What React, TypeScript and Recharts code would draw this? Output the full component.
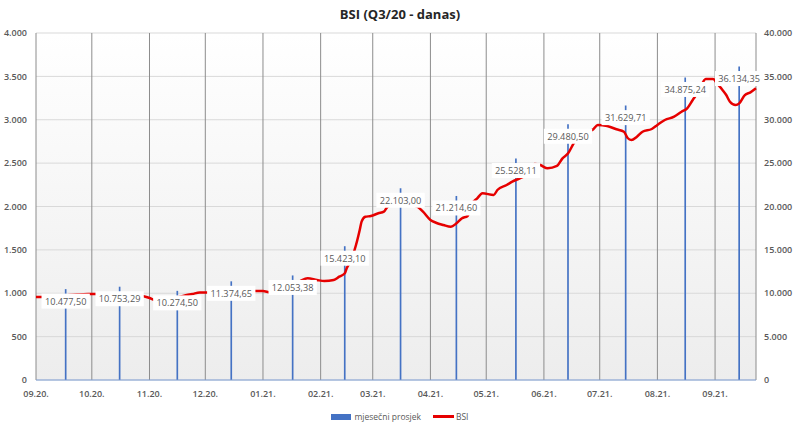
import {
  Bar,
  CartesianGrid,
  ComposedChart,
  LabelList,
  Line,
  XAxis,
  YAxis,
} from "recharts";

// x axis is days since 1.9.2020.
const monthTickDays = [0, 30, 61, 91, 122, 153, 181, 212, 242, 273, 303, 334, 365];
const monthTickLabels = [
  "09.20.", "10.20.", "11.20.", "12.20.", "01.21.", "02.21.", "03.21.",
  "04.21.", "05.21.", "06.21.", "07.21.", "08.21.", "09.21.",
];

// monthly average (right axis)
const avgDays = [16, 45, 76, 105, 138, 166, 196, 226, 258, 286, 317, 349, 378];
const avgValues = [
  10477.5, 10753.29, 10274.5, 11374.65, 12053.38, 15423.1, 22103.0,
  21214.6, 25528.11, 29480.5, 31629.71, 34875.24, 36134.35,
];

// BSI (left axis)
const bsiDays = [
  0, 4, 10, 16, 22, 28, 33, 38, 44, 50, 57, 61, 64, 70, 76, 80, 84, 88, 94,
  100, 106, 112, 118, 122, 126, 132, 138, 142, 146, 151, 155, 160, 163, 166,
  167, 169, 172, 174, 175, 177, 180, 184, 187, 189, 193, 197, 201, 205, 208,
  212, 215, 219, 223, 226, 229, 232, 234, 237, 240, 246, 248, 253, 256, 260,
  264, 268, 271, 275, 280, 283, 286, 289, 292, 296, 299, 302, 307, 312, 316,
  318, 320, 323, 326, 331, 334, 338, 343, 347, 350, 353, 355, 357, 360, 364,
  366, 369, 371, 373, 376, 378, 381, 384, 387,
];
const bsiValues = [
  957, 957, 965, 975, 985, 991, 991, 988, 982, 975, 968, 945, 922, 925, 950,
  975, 991, 1009, 1009, 1012, 1018, 1022, 1026, 1026, 1009, 1045, 1095, 1140,
  1172, 1153, 1141, 1153, 1191, 1230, 1288, 1364, 1556, 1729, 1825, 1882,
  1890, 1922, 1940, 1998, 2025, 2035, 2020, 1998, 1940, 1844, 1813, 1787,
  1767, 1806, 1864, 1890, 2020, 2090, 2152, 2133, 2190, 2248, 2286, 2325,
  2370, 2490, 2478, 2440, 2467, 2555, 2613, 2728, 2820, 2870, 2882, 2940,
  2928, 2890, 2862, 2790, 2766, 2805, 2862, 2893, 2940, 2997, 3035, 3093,
  3132, 3228, 3290, 3370, 3470, 3470, 3420, 3343, 3285, 3208, 3170, 3189,
  3285, 3316, 3362,
];

const leftTicks = [0, 500, 1000, 1500, 2000, 2500, 3000, 3500, 4000];
const rightTicks = [0, 5000, 10000, 15000, 20000, 25000, 30000, 35000, 40000];

const FONT = "'Open Sans', sans-serif";
const GREY = "#595959";

function thousands(s: string): string {
  return s.replace(/\B(?=(\d{3})+(?!\d))/g, ".");
}

function fmtInt(v: number): string {
  return thousands(Math.round(v).toString());
}

function fmtDec(v: number): string {
  const [i, d] = v.toFixed(2).split(".");
  return `${thousands(i)},${d}`;
}

type Row = { day: number; bsi?: number; avg?: number };

const rows: Row[] = (() => {
  const map = new Map<number, Row>();
  bsiDays.forEach((d, i) => map.set(d, { day: d, bsi: bsiValues[i] }));
  avgDays.forEach((d, i) => {
    const r = map.get(d) ?? { day: d };
    r.avg = avgValues[i];
    map.set(d, r);
  });
  return [...map.values()].sort((a, b) => a.day - b.day);
})();

function AvgLabel(props: any) {
  const { x, y, width, value } = props;
  if (value == null || x == null) return null;
  const text = fmtDec(Number(value));
  const cx = Number(x) + Number(width) / 2;
  const cy = Number(y) + 12;
  const w = text.length * 4.7 + 6;
  return (
    <g>
      <rect fill="#ffffff" height={15} width={w} x={cx - w / 2} y={cy - 7.5} />
      <text
        dominantBaseline="central"
        fill={GREY}
        fontFamily={FONT}
        fontSize={9.2}
        textAnchor="middle"
        x={cx}
        y={cy}
      >
        {text}
      </text>
    </g>
  );
}

export default function App() {
  const tickStyle = { fontSize: 9, fill: GREY, fontFamily: FONT, fontWeight: 600 };
  return (
    <div
      style={{
        position: "absolute",
        left: 0,
        top: 0,
        width: 800,
        height: 428,
        background: "#ffffff",
        fontFamily: FONT,
      }}
    >
      <div
        style={{
          position: "absolute",
          top: 5,
          width: 800,
          textAlign: "center",
          fontSize: 13,
          fontWeight: 700,
          color: "#262626",
        }}
      >
        BSI (Q3/20 - danas)
      </div>
      <ComposedChart
        data={rows}
        height={428}
        margin={{ top: 33, right: 0, bottom: 0, left: 0 }}
        width={800}
      >
        <defs>
          <linearGradient id="plotBg" x1="0" x2="0" y1="0" y2="1">
            <stop offset="0%" stopColor="#ffffff" />
            <stop offset="100%" stopColor="#ededed" />
          </linearGradient>
        </defs>
        <CartesianGrid
          fill="url(#plotBg)"
          stroke="#d9d9d9"
          vertical={false}
          yAxisId="left"
        />
        <CartesianGrid horizontal={false} stroke="#8c8c8c" yAxisId="left" />
        <XAxis
          axisLine={{ stroke: "#7f9fd6" }}
          dataKey="day"
          domain={[0, 387]}
          height={48}
          tick={tickStyle}
          tickFormatter={(d: number) => monthTickLabels[monthTickDays.indexOf(d)] ?? ""}
          tickLine={false}
          tickMargin={11}
          tickSize={0}
          ticks={monthTickDays}
          type="number"
        />
        <YAxis
          axisLine={false}
          domain={[0, 4000]}
          tick={tickStyle}
          tickFormatter={fmtInt}
          tickLine={false}
          tickMargin={9}
          tickSize={0}
          ticks={leftTicks}
          width={36}
          yAxisId="left"
        />
        <YAxis
          axisLine={false}
          domain={[0, 40000]}
          orientation="right"
          tick={tickStyle}
          tickFormatter={fmtInt}
          tickLine={false}
          tickMargin={8}
          tickSize={0}
          ticks={rightTicks}
          width={44}
          yAxisId="right"
        />
        <Line
          connectNulls
          dataKey="bsi"
          dot={false}
          isAnimationActive={false}
          stroke="#e60000"
          strokeWidth={2.5}
          type="monotone"
          yAxisId="left"
        />
        <Bar
          barSize={2}
          dataKey="avg"
          fill="#4472c4"
          isAnimationActive={false}
          yAxisId="right"
        >
          <LabelList content={AvgLabel} dataKey="avg" />
        </Bar>
      </ComposedChart>
      <div
        style={{
          position: "absolute",
          top: 411,
          left: 0,
          width: 800,
          display: "flex",
          justifyContent: "center",
          alignItems: "center",
          gap: 12,
          fontSize: 8.5,
          color: GREY,
        }}
      >
        <div style={{ display: "flex", alignItems: "center", gap: 3 }}>
          <span style={{ display: "inline-block", width: 20, height: 6, background: "#4472c4" }} />
          mjesečni prosjek
        </div>
        <div style={{ display: "flex", alignItems: "center", gap: 2 }}>
          <span style={{ display: "inline-block", width: 21, height: 3, background: "#e60000" }} />
          BSI
        </div>
      </div>
    </div>
  );
}
